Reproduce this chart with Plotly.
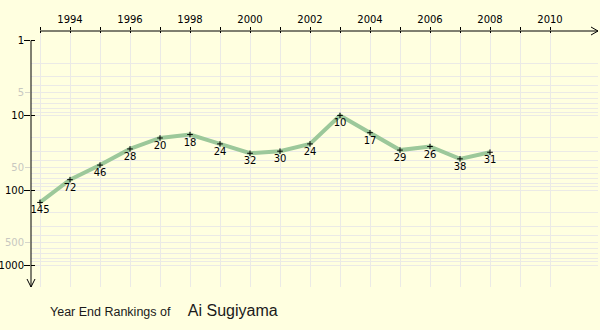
import plotly.graph_objects as go

# ---- data ----
years = [1993, 1994, 1995, 1996, 1997, 1998, 1999, 2000, 2001, 2002, 2003, 2004, 2005, 2006, 2007, 2008]
ranks = [145, 72, 46, 28, 20, 18, 24, 32, 30, 24, 10, 17, 29, 26, 38, 31]
tick_years = list(range(1993, 2011))
year_labels = [str(y) if y % 2 == 0 else "" for y in tick_years]
major_rank_ticks = [1, 10, 100, 1000]
minor_rank_ticks = [5, 50, 500]
grid_ranks = [m * 10 ** k for k in range(0, 3) for m in range(2, 10)] + [10, 100, 1000]
player = "Ai Sugiyama"

# ---- styling ----
BG = "#ffffe0"
GRID = "#ebeae6"
LINE_GREEN = "#9cc89a"
FONT = "DejaVu Sans"

x_range = [1992.7, 2011.6]
y_range = [3.29, -0.127]  # log10 units, reversed (rank 1 at top)

fig = go.Figure()

fig.add_trace(go.Scatter(
    x=years, y=ranks, mode="lines+markers+text",
    line=dict(color=LINE_GREEN, width=4),
    marker=dict(symbol="cross-thin", size=4, line=dict(color="black", width=1), color="black"),
    text=[str(r) for r in ranks], textposition="bottom center",
    textfont=dict(family=FONT, size=10, color="black"),
    hoverinfo="skip", showlegend=False, cliponaxis=False,
    xaxis="x", yaxis="y",
))
# dummy traces to make overlay axes render
for xa, ya in [("x2", "y2"), ("x", "y3"), ("x", "y4")]:
    fig.add_trace(go.Scatter(x=[None], y=[None], xaxis=xa, yaxis=ya,
                             showlegend=False, hoverinfo="skip"))

common_x = dict(range=x_range, tickvals=tick_years, zeroline=False, showline=False, automargin=False)
common_y = dict(type="log", range=y_range, zeroline=False, showline=False, showgrid=False, automargin=False)

fig.update_layout(
    width=600, height=330,
    margin=dict(l=31, r=2, t=31, b=43, autoexpand=False),
    paper_bgcolor=BG, plot_bgcolor=BG,
    xaxis=dict(**common_x, side="top", ticktext=year_labels, ticks="outside",
               ticklen=3, tickcolor="black", showgrid=True, gridcolor=GRID, gridwidth=1,
               tickfont=dict(family=FONT, size=10, color="black")),
    xaxis2=dict(**common_x, side="top", overlaying="x", ticks="inside", ticklen=2,
                tickcolor="black", showticklabels=False, showgrid=False, anchor="y2"),
    yaxis=dict(type="log", range=y_range, zeroline=False, showline=False, automargin=False,
               tickvals=grid_ranks, showticklabels=False, ticks="",
               showgrid=True, gridcolor=GRID, gridwidth=1),
    yaxis2=dict(**common_y, overlaying="y", side="left", tickvals=major_rank_ticks,
                ticktext=[str(v) for v in major_rank_ticks], ticks="outside", ticklen=6,
                ticklabelstandoff=-2,
                tickcolor="black", tickfont=dict(family=FONT, size=10, color="black"),
                anchor="x2"),
    yaxis3=dict(**common_y, overlaying="y", side="left", tickvals=minor_rank_ticks,
                ticktext=[str(v) for v in minor_rank_ticks], ticks="outside", ticklen=5,
                ticklabelstandoff=-1,
                tickcolor="#d6d6cc", tickfont=dict(family=FONT, size=10, color="#c8c8c0"),
                anchor="x"),
    yaxis4=dict(**common_y, overlaying="y", side="left", tickvals=major_rank_ticks,
                ticks="inside", ticklen=4, tickcolor="black", showticklabels=False,
                anchor="x"),
)

# axis lines
fig.add_shape(type="line", xref="x", yref="paper", x0=tick_years[0], x1=x_range[1],
              y0=1, y1=1, line=dict(color="black", width=1))
fig.add_shape(type="line", xref="paper", yref="y", x0=0, x1=0,
              y0=major_rank_ticks[0], y1=10 ** y_range[0], line=dict(color="black", width=1))
# arrow heads
fig.add_shape(type="path", xref="paper", yref="paper", xsizemode="pixel", ysizemode="pixel",
              xanchor=1, yanchor=1, path="M -7 -4 L 0 0 L -7 4",
              line=dict(color="black", width=1))
fig.add_shape(type="path", xref="paper", yref="paper", xsizemode="pixel", ysizemode="pixel",
              xanchor=0, yanchor=0, path="M -4 8 L 0 0 L 4 8",
              line=dict(color="black", width=1))

# caption
fig.add_annotation(xref="paper", yref="paper", x=(48 - 31) / 567, y=-23 / 256,
                   xanchor="left", yanchor="middle", showarrow=False,
                   text="Year End Rankings of&nbsp;&nbsp;&nbsp;&nbsp;&nbsp;<span style='font-size:16px'>" + player + "</span>",
                   font=dict(family="Liberation Sans", size=12.5, color="#1a1a1a"))

fig.write_html("out.html")
